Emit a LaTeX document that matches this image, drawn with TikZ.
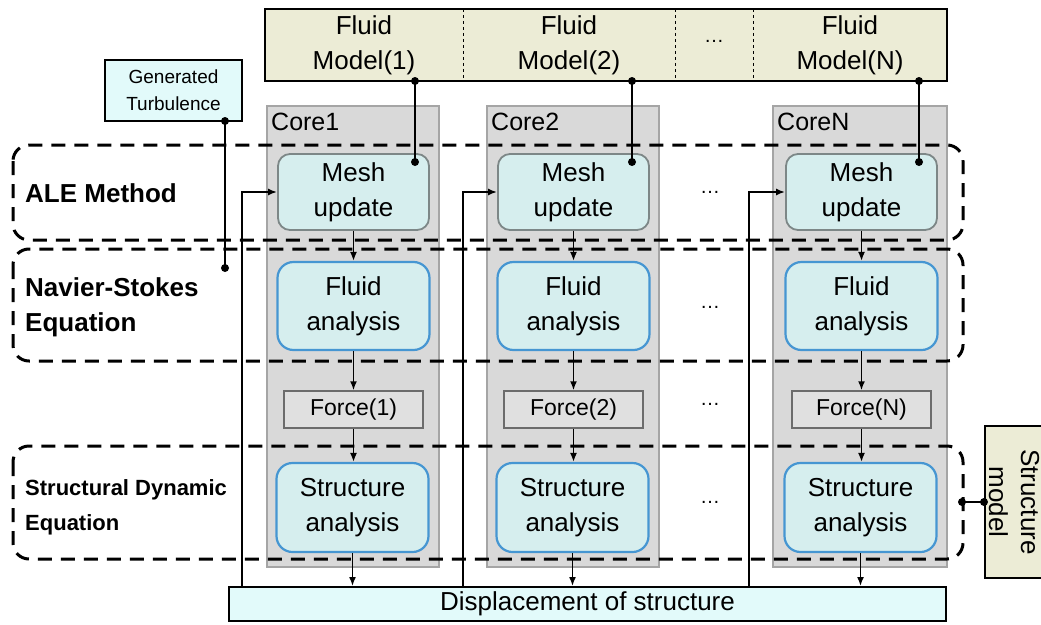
\documentclass[tikz,border=0pt]{standalone}
\usepackage{fontspec}
\setmainfont{Liberation Sans}
\usetikzlibrary{arrows.meta}
\definecolor{beige}{RGB}{236,236,214}
\definecolor{cyanfill}{RGB}{214,238,238}
\definecolor{lightcyan}{RGB}{226,250,250}
\definecolor{coregray}{RGB}{217,217,217}
\definecolor{coreedge}{RGB}{165,165,165}
\definecolor{blueedge}{RGB}{70,150,210}
\definecolor{meshedge}{RGB}{125,135,135}
\definecolor{forcefill}{RGB}{224,224,224}
\tikzset{
  big/.style={font=\fontsize{26}{35}\selectfont},
  cell/.style={big, align=center, inner sep=0pt},
  corebox/.style={draw=coreedge, fill=coregray, line width=2pt},
  meshbox/.style={cell, draw=meshedge, fill=cyanfill, line width=1.8pt, rounded corners=12pt, minimum width=151pt, minimum height=76pt},
  anbox/.style={cell, draw=blueedge, fill=cyanfill, line width=2.2pt, rounded corners=16pt, minimum width=152pt},
  forcebox/.style={draw=gray!85!black, fill=forcefill, line width=1.5pt, minimum width=139pt, minimum height=37pt, inner sep=0pt, font=\fontsize{23}{28}\selectfont},
  frame/.style={draw=black, line width=3pt, dash pattern=on 14pt off 9pt, rounded corners=16pt},
  flow/.style={line width=1.6pt, -{Latex[length=9pt,width=7pt]}},
  fb/.style={line width=2pt, -{Latex[length=9pt,width=7pt]}},
  link/.style={line width=2pt},
  dot/.style={circle, fill=black, inner sep=0pt, minimum size=8pt},
  lab/.style={font=\bfseries\fontsize{26}{35}\selectfont, align=left, anchor=west, inner sep=0pt},
  dots/.style={font=\fontsize{20}{24}\selectfont, inner sep=0pt},
}
\newcommand{\mydots}{\raisebox{0.3em}{\fontsize{20}{24}\selectfont …}}
\begin{document}
\begin{tikzpicture}[x=1pt,y=-1pt]
\clip (0,0) rectangle (1041,624);
\fill[white] (0,0) rectangle (1041,624);

\node[lab] (lale) at (25,193) {ALE Method};
\node[lab] (lns) at (25,307) {Navier-Stokes\\Equation};
\node[lab, font=\bfseries\fontsize{22}{35}\selectfont] (lsd) at (25,507) {Structural Dynamic\\Equation};

% fluid model bar
\node[cell, fill=beige, minimum width=198pt, minimum height=72pt] (fm1) at (364,45) {Fluid\\Model(1)};
\node[cell, fill=beige, minimum width=212pt, minimum height=72pt] (fm2) at (569,45) {Fluid\\Model(2)};
\node[cell, fill=beige, minimum width=78pt, minimum height=72pt] (fmd) at (714,45) {\mydots};
\node[cell, fill=beige, minimum width=194pt, minimum height=72pt] (fmN) at (850,45) {Fluid\\Model(N)};
\draw[line width=2pt] (fm1.north west) rectangle (fmN.south east);
\draw[line width=1.3pt, dashed] (fm1.north east) -- (fm1.south east);
\draw[line width=1.3pt, dashed] (fm2.north east) -- (fm2.south east);
\draw[line width=1.3pt, dashed] (fmd.north east) -- (fmd.south east);

% generated turbulence
\node[draw, line width=1.8pt, fill=lightcyan, minimum width=137pt, minimum height=61pt, align=center, inner sep=0pt, font=\fontsize{19}{27}\selectfont] (gt) at (173.5,90.5) {Generated\\Turbulence};

% cores
\node[corebox, minimum width=172pt, minimum height=461pt] (c1) at (353,336.5) {};
\node[corebox, minimum width=172pt, minimum height=461pt] (c2) at (573,336.5) {};
\node[corebox, minimum width=174pt, minimum height=461pt] (cN) at (860,336.5) {};
\node[anchor=north west, inner sep=0pt, font=\fontsize{25}{30}\selectfont] (c1l) at (271,113) {Core1};
\node[anchor=north west, inner sep=0pt, font=\fontsize{25}{30}\selectfont] (c2l) at (491,113) {Core2};
\node[anchor=north west, inner sep=0pt, font=\fontsize{25}{30}\selectfont] (cNl) at (777,113) {CoreN};

% dashed frames (over the cores)
\draw[frame] (13,145) rectangle (963,240);
\draw[frame] (13,249) rectangle (963,361);
\draw[frame] (13,446) rectangle (963,559);

% displacement bar
\node[draw, line width=2pt, fill=lightcyan, minimum width=717pt, minimum height=34pt, inner sep=0pt, font=\fontsize{26}{30}\selectfont] (disp) at (587.5,604) {Displacement of structure};

% column boxes
\foreach \i/\x in {1/353.5, 2/573.5, N/861.5}{
  \node[meshbox] (m\i) at (\x,192) {Mesh\\update};
  \node[anbox, minimum height=88pt] (f\i) at (\x,306) {Fluid\\analysis};
  \node[forcebox] (p\i) at (\x,409.5) {Force(\i)};
  \node[anbox, minimum height=89pt] (s\i) at (\x-1,507.5) {Structure\\analysis};
  \draw[flow] (m\i.south) -- (m\i.south |- f\i.north);
  \draw[flow] (f\i.south) -- (f\i.south |- p\i.north);
  \draw[flow] (p\i.south) -- (p\i.south |- s\i.north);
  \draw[flow] (s\i.south) -- (s\i.south |- disp.north);
}

% middle dots
\node[dots] (d1) at (710,195) {\mydots};
\node[dots] (d2) at (710,310) {\mydots};
\node[dots] (d3) at (710,407) {\mydots};
\node[dots] (d4) at (710,505) {\mydots};

% fluid model links
\coordinate (t1) at (415,81);
\coordinate (t2) at (632,81);
\coordinate (tN) at (919,81);
\coordinate (b1) at (415,162);
\coordinate (b2) at (632,162);
\coordinate (bN) at (919,162);
\draw[link] (t1) -- (b1);
\draw[link] (t2) -- (b2);
\draw[link] (tN) -- (bN);
\foreach \p in {t1,t2,tN,b1,b2,bN} \node[dot] at (\p) {};

% turbulence link
\coordinate (g1) at (225,121);
\coordinate (g2) at (225,268);
\draw[link] (g1) -- (g2);
\node[dot] at (g1) {};
\node[dot] at (g2) {};

% feedback lines
\draw[fb] (242,587) -- (242,192) -- (m1.west);
\draw[fb] (463,587) -- (463,192) -- (m2.west);
\draw[fb] (749,587) -- (749,192) -- (mN.west);

% structure model
\node[draw, line width=2pt, fill=beige, minimum width=70pt, minimum height=152pt, anchor=west] (sm) at (984,502) {};
\node[rotate=-90, align=center, inner sep=0pt, font=\fontsize{26}{32}\selectfont] (smt) at (1014,502) {Structure\\model};
\coordinate (sa) at (962,502);
\draw[link] (sa) -- (sm.west);
\node[dot] at (sa) {};
\node[dot] at (sm.west) {};
\end{tikzpicture}
\end{document}
